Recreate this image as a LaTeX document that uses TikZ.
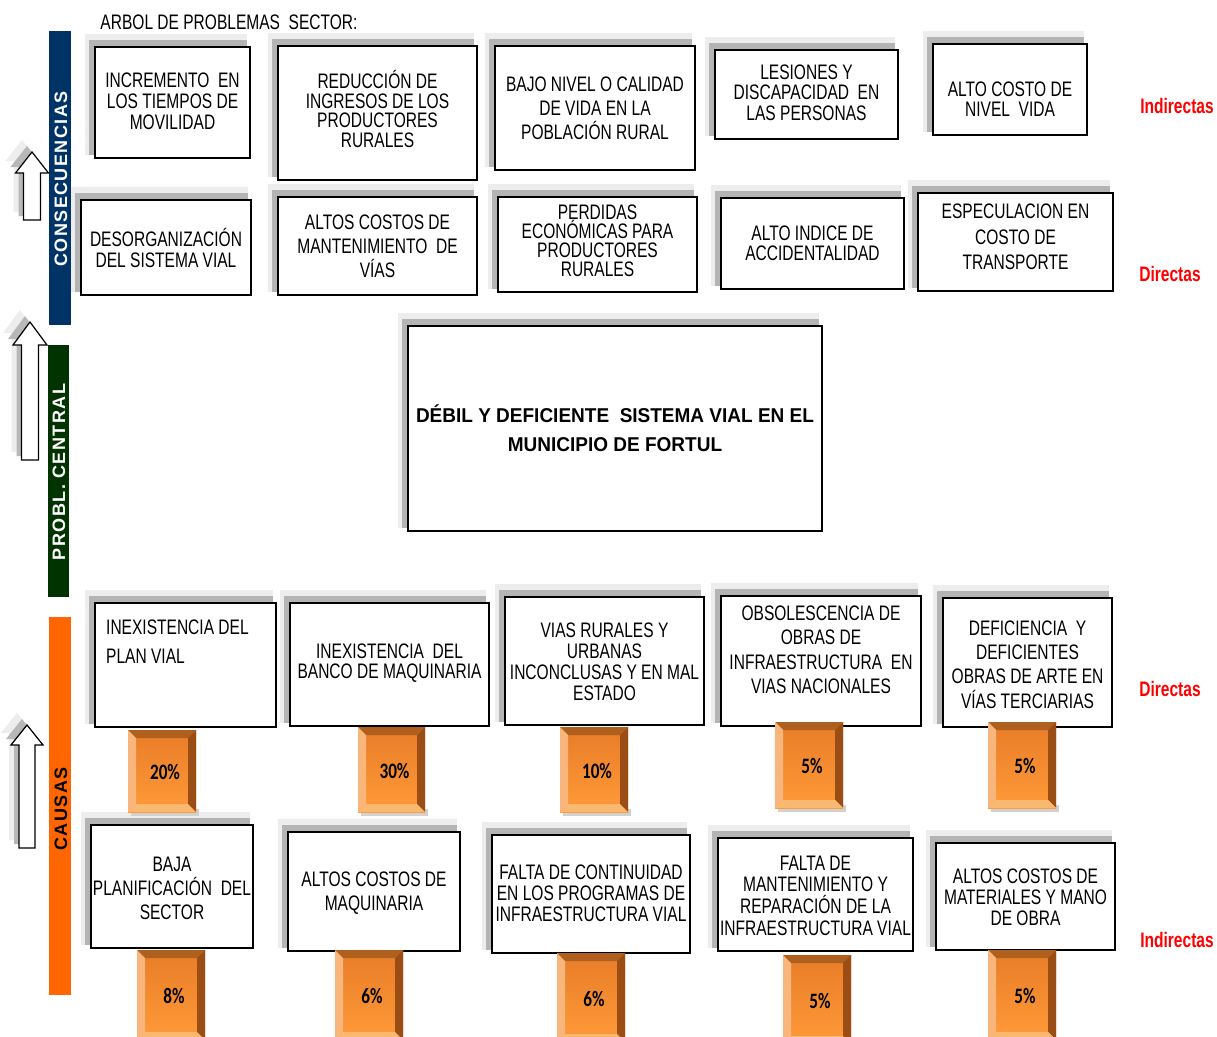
\documentclass[tikz,border=0pt]{standalone}
\usepackage{fontspec}
\setmainfont{Liberation Sans}
\newfontfamily\narrowf[FakeStretch=0.74]{Liberation Sans}
\newfontfamily\pctf[FakeStretch=0.78]{Carlito}
\usetikzlibrary{fit}
\definecolor{navybar}{HTML}{003366}
\definecolor{greenbar}{HTML}{003300}
\definecolor{orangebar}{HTML}{FF6600}
\definecolor{shlight}{HTML}{EDEDED}
\definecolor{shdark}{HTML}{B4B4B4}
\definecolor{bevT}{HTML}{B0601E}
\definecolor{bevL}{HTML}{F8B67C}
\definecolor{bevR}{HTML}{9A4E16}
\definecolor{bevB}{HTML}{FBB870}
\definecolor{faceTop}{HTML}{E87C28}
\definecolor{faceBot}{HTML}{FF9A38}
\tikzset{
  boxst/.style={draw=black, line width=1.2pt, fill=white, rectangle, inner sep=0pt},
  txt/.style={align=center, inner sep=0pt, text=black},
  pct/.style={font={\pctf\bfseries\fontsize{22}{24}\selectfont}, inner sep=0pt},
  redlab/.style={font={\narrowf\bfseries\fontsize{21}{23}\selectfont}, text=red, inner sep=0pt},
  barlab/.style={rotate=90, font={\bfseries\fontsize{18}{20}\selectfont\addfontfeature{LetterSpace=8}}, inner sep=0pt}
}
% name, x1, y1, x2, y2, dy, baselineskip, text
\newcommand\cbox[8]{%
  \fill[shlight] (#2-10,#3-13) rectangle (#4-3,#5-3);
  \fill[shdark] (#2-6,#3-7) rectangle (#4-3,#5-3);
  \node[boxst, fit={(#2,#3) (#4,#5)}] (#1) {};
  \node[txt, font={\narrowf\fontsize{21}{#7}\selectfont}] (#1t) at ([yshift=-#6pt]#1.center) {#8};
}
% name, x1, y1, x2, y2, text
\newcommand\pbox[6]{%
  \fill[black!18] (#2+3,#5-3) rectangle (#4+3,#5+4);
  \shade[top color=faceTop, bottom color=faceBot] (#2,#3) rectangle (#4,#5);
  \fill[bevT] (#2,#3) -- (#4,#3) -- (#4-8,#3+8) -- (#2+8,#3+8) -- cycle;
  \fill[bevL] (#2,#3) -- (#2+8,#3+8) -- (#2+8,#5-8) -- (#2,#5) -- cycle;
  \fill[bevR] (#4,#3) -- (#4,#5) -- (#4-8,#5-8) -- (#4-8,#3+8) -- cycle;
  \fill[bevB] (#2,#5) -- (#4,#5) -- (#4-8,#5-8) -- (#2+8,#5-8) -- cycle;
  \node[pct] (#1) at ({(#2+#4)/2+3},{(#3+#5)/2+1}) {#6};
}
% tipx, tipy, headhalf, shafthalf, headbase y, bottom y
\newcommand\uparr[6]{%
  \fill[shlight] (#1-10,#2-12) -- (#1-10+#3,#5-12) -- (#1-10+#4,#5-12) -- (#1-10+#4,#6-8) -- (#1-10-#4,#6-8) -- (#1-10-#4,#5-12) -- (#1-10-#3,#5-12) -- cycle;
  \fill[black!28] (#1-5,#2-6) -- (#1-5+#3,#5-6) -- (#1-5+#4,#5-6) -- (#1-5+#4,#6-4) -- (#1-5-#4,#6-4) -- (#1-5-#4,#5-6) -- (#1-5-#3,#5-6) -- cycle;
  \draw[fill=white, line width=1.2pt, line join=miter] (#1,#2) -- (#1+#3,#5) -- (#1+#4,#5) -- (#1+#4,#6) -- (#1-#4,#6) -- (#1-#4,#5) -- (#1-#3,#5) -- cycle;
}
\begin{document}
\begin{tikzpicture}[x=1pt,y=-1pt]
\useasboundingbox (0,0) rectangle (1217,1036);
\fill[white] (0,0) rectangle (1217,1036);

% title
\node[inner sep=0pt, font={\narrowf\fontsize{21}{23}\selectfont}] (title) at (229,22) {ARBOL DE PROBLEMAS\ \ SECTOR:};

% side bars
\fill[navybar] (49,31) rectangle (71,325);
\fill[greenbar] (48,345) rectangle (69,597);
\fill[orangebar] (49,617) rectangle (71,995);
\node[barlab, text=white] (lcons) at (61,179) {CONSECUENCIAS};
\node[barlab, text=white] (lprob) at (59,472) {PROBL. CENTRAL};
\node[barlab, text=black] (lcaus) at (61,809) {CAUSAS};

% side arrows
\uparr{32}{152}{16.5}{8.5}{173}{220}
\uparr{30}{322}{17}{8.5}{345}{460}
\uparr{27}{725}{16}{8}{745}{848}

% consequences, indirect
\cbox{b1}{95}{47}{250}{158}{-1}{21}{INCREMENTO\ \ EN\\LOS TIEMPOS DE\\MOVILIDAD}
\cbox{b2}{278}{46}{477}{180}{-4}{19.5}{REDUCCIÓN\ DE\\INGRESOS DE LOS\\PRODUCTORES\\RURALES}
\cbox{b3}{495}{46}{695}{170}{0}{24}{BAJO NIVEL O CALIDAD\\DE VIDA EN LA\\POBLACIÓN\ RURAL}
\cbox{b4}{715}{50}{898}{139}{-2}{20.5}{LESIONES Y\\DISCAPACIDAD\ \ EN\\LAS PERSONAS}
\cbox{b5}{933}{44}{1087}{135}{10}{20}{ALTO COSTO DE\\NIVEL\ \ VIDA}

% consequences, direct
\cbox{c1}{81}{200}{251}{295}{0}{21}{DESORGANIZACIÓN\\DEL SISTEMA VIAL}
\cbox{c2}{278}{197}{477}{295}{0}{24}{ALTOS COSTOS DE\\MANTENIMIENTO\ \ DE\\VÍAS}
\cbox{c3}{498}{197}{697}{292}{-4}{19}{PERDIDAS\\ECONÓMICAS\ PARA\\PRODUCTORES\\RURALES}
\cbox{c4}{721}{198}{904}{289}{0}{20}{ALTO INDICE DE\\ACCIDENTALIDAD}
\cbox{c5}{918}{193}{1113}{291}{-5}{25.5}{ESPECULACION\ EN\\COSTO DE\\TRANSPORTE}

% central problem
\fill[shlight] (398,313) rectangle (819,528);
\fill[shdark] (402,319) rectangle (819,528);
\node[boxst, fit={(408,326) (822,531)}] (central) {};
\node[txt, font={\bfseries\fontsize{20}{29}\selectfont\addfontfeature{FakeStretch=0.95}}] (centralt) at (central.center) {DÉBIL Y DEFICIENTE\ \ SISTEMA VIAL EN EL\\MUNICIPIO DE FORTUL};

% causes, direct
\cbox{d1}{95}{603}{276}{727}{0}{21}{}
\node[anchor=west, align=left, inner sep=0pt, font={\narrowf\fontsize{21}{29}\selectfont}] (d1t) at (106,641.5) {INEXISTENCIA DEL\\PLAN VIAL};
\cbox{d2}{290}{603}{489}{726}{-1.5}{20}{INEXISTENCIA\ \ DEL\\BANCO DE MAQUINARIA}
\cbox{d3}{505}{597}{704}{725}{1}{21}{VIAS RURALES Y\\URBANAS\\INCONCLUSAS Y EN MAL\\ESTADO}
\cbox{d4}{721}{596}{921}{726}{-11}{24.5}{OBSOLESCENCIA\ DE\\OBRAS DE\\INFRAESTRUCTURA\ \ EN\\VIAS NACIONALES}
\cbox{d5}{943}{598}{1112}{727}{2}{24.3}{DEFICIENCIA\ \ Y\\DEFICIENTES\\OBRAS DE ARTE EN\\VÍAS TERCIARIAS}

% causes, indirect
\cbox{e1}{91}{825}{253}{948}{1.5}{24}{BAJA\\PLANIFICACIÓN\ \ DEL\\SECTOR}
\cbox{e2}{288}{832}{460}{951}{1.5}{24}{ALTOS COSTOS DE\\MAQUINARIA}
\cbox{e3}{492}{835}{690}{953}{-1}{21}{FALTA DE CONTINUIDAD\\EN LOS PROGRAMAS DE\\INFRAESTRUCTURA VIAL}
\cbox{e4}{718}{838}{913}{951}{1}{21.7}{FALTA DE\\MANTENIMIENTO Y\\REPARACIÓN DE LA\\INFRAESTRUCTURA VIAL}
\cbox{e5}{936}{843}{1115}{950}{0.5}{21}{ALTOS COSTOS DE\\MATERIALES Y MANO\\DE OBRA}

% percentages row 1
\pbox{p1}{128}{730}{196}{812}{20\%}
\pbox{p2}{358}{727}{425}{812}{30\%}
\pbox{p3}{560}{727}{628}{812}{10\%}
\pbox{p4}{775}{722}{843}{808}{5\%}
\pbox{p5}{988}{722}{1056}{808}{5\%}

% percentages row 2
\pbox{q1}{137}{950}{205}{1040}{8\%}
\pbox{q2}{335}{950}{403}{1040}{6\%}
\pbox{q3}{557}{953}{625}{1042}{6\%}
\pbox{q4}{783}{955}{851}{1044}{5\%}
\pbox{q5}{988}{950}{1056}{1040}{5\%}

% side labels
\node[redlab] (ind1) at (1177,106) {Indirectas};
\node[redlab] (dir1) at (1170,274) {Directas};
\node[redlab] (dir2) at (1170,689) {Directas};
\node[redlab] (ind2) at (1177,940) {Indirectas};
\end{tikzpicture}
\end{document}
